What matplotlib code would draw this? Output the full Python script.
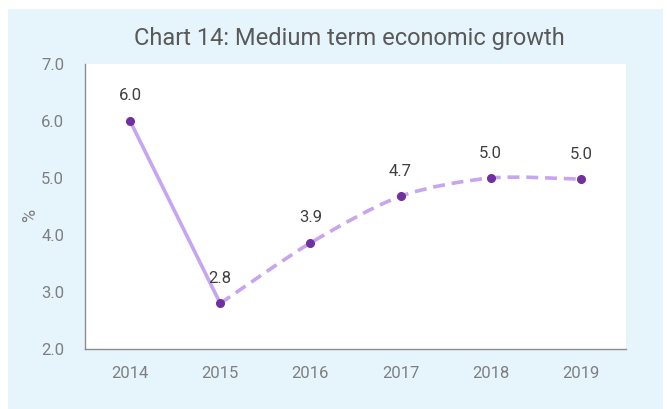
import numpy as np
import matplotlib
matplotlib.use("Agg")
import matplotlib.pyplot as plt
from matplotlib.path import Path
from matplotlib.patches import PathPatch, Rectangle

# Dados
years = ["2014", "2015", "2016", "2017", "2018", "2019"]
actual_x = [0, 1]
actual_y = [6.0, 2.8]
forecast_x = [1, 2, 3, 4, 5]
forecast_y = [2.8, 3.86, 4.68, 5.0, 4.98]
y_ticks = [2.0, 3.0, 4.0, 5.0, 6.0, 7.0]

plt.rcParams['font.family'] = ['Roboto', 'DejaVu Sans']

line_col = "#c6a6ef"
mark_col = "#7030a0"
bg_col = "#e6f4fc"

fig = plt.figure(figsize=(6.67, 4.09), dpi=100)
fig.patches.append(Rectangle((8/667, 0), 655/667, 400/409, transform=fig.transFigure,
                             facecolor=bg_col, edgecolor="none", zorder=-10))
ax = fig.add_axes([85/667, 60/409, 541/667, 285/409])
ax.set_facecolor("white")

# serie real (reta)
ax.plot(actual_x, actual_y, color=line_col, lw=2.6, solid_capstyle="round", zorder=2)

# serie projetada, suavizada (bezier)
px = np.array(forecast_x, dtype=float)
py = np.array(forecast_y, dtype=float)
n = len(px)
k = 1 / 7
verts = [(px[0], py[0])]
codes = [Path.MOVETO]
for i in range(n - 1):
    i0 = max(i - 1, 0)
    i3 = min(i + 2, n - 1)
    c1 = (px[i] + (px[i+1] - px[i0]) * k, py[i] + (py[i+1] - py[i0]) * k)
    c2 = (px[i+1] - (px[i3] - px[i]) * k, py[i+1] - (py[i3] - py[i]) * k)
    verts += [c1, c2, (px[i+1], py[i+1])]
    codes += [Path.CURVE4] * 3
patch = PathPatch(Path(verts, codes), fill=False, edgecolor=line_col, lw=2.6,
                  linestyle=(0, (3.3, 1.9)), transform=ax.transData, zorder=2)
ax.add_patch(patch)

all_x = actual_x + forecast_x[1:]
all_y = actual_y + forecast_y[1:]
ax.plot(all_x, all_y, ls="none", marker="o", ms=5.5, color=mark_col, zorder=3)
for x, y in zip(all_x, all_y):
    ax.annotate("%.1f" % y, (x, y), xytext=(0, 18), textcoords="offset points",
                ha="center", va="center", fontsize=12, color="#404040")

ax.set_xlim(-0.5, 5.5)
ax.set_ylim(2.0, 7.0)
ax.set_xticks(range(len(years)))
ax.set_xticklabels(years)
ax.set_yticks(y_ticks)
ax.set_yticklabels(["%.1f" % v for v in y_ticks])
ax.tick_params(length=0, labelsize=12, labelcolor="#7f7f7f")
ax.tick_params(axis="x", pad=12)
ax.tick_params(axis="y", pad=15)
for s in ["top", "right"]:
    ax.spines[s].set_visible(False)
for s in ["left", "bottom"]:
    ax.spines[s].set_color("#8c8c8c")
    ax.spines[s].set_linewidth(1.0)
ax.set_ylabel("%", fontsize=13, color="#7f7f7f")
ax.yaxis.set_label_coords(-0.085, 0.47)

fig.text(349/667, 1 - 38/409, "Chart 14: Medium term economic growth",
         ha="center", va="center", fontsize=17, color="#595959")

plt.savefig("out.png", dpi=100)
